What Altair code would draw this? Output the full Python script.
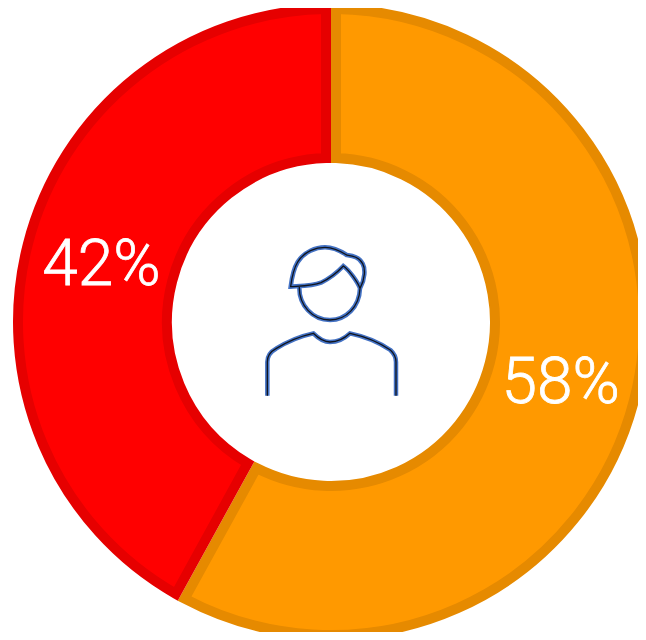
import altair as alt
import pandas as pd

labels = ["58%", "42%"]
values = [58, 42]
fills = ["#FF9900", "#FF0000"]
strokes = ["#E68A00", "#E60000"]

# Person icon outline, as custom symbol paths
HEAD = ("M-121,-106 C-118,-130 -112,-160 -100,-180 C-80,-212 -45,-224 -18,-224 "
        "C10,-224 30,-212 47,-201 C65,-198 85,-195 95,-175 C103,-160 103,-130 87,-101 "
        "C80,-120 55,-155 37,-168 C20,-150 -5,-130 -30,-118 C-55,-108 -90,-108 -121,-106 Z "
        "M-95,-106 C-97,-50 -55,-6 -3,-6 C45,-6 85,-45 87,-101")
BODY = ("M-191,221 L-191,120 C-191,100 -180,88 -165,80 C-130,58 -95,43 -53,34 "
        "C-35,52 -20,60 -3,60 C20,60 40,50 57,34 C100,43 140,58 178,84 "
        "C190,95 195,105 195,120 L195,221")
ICON = HEAD + " " + BODY

df = pd.DataFrame({"label": labels, "value": values, "order": [0, 1]})
cx, cy = 323, 314

base = alt.Chart(df).encode(
    theta=alt.Theta("value:Q", stack=True),
    order=alt.Order("order:Q"),
)

color = alt.Color("label:N", scale=alt.Scale(domain=labels, range=fills), legend=None)
stroke = alt.Stroke("label:N", scale=alt.Scale(domain=labels, range=strokes), legend=None)

arcs = base.mark_arc(
    outerRadius=313, innerRadius=164, padAngle=0.0283,
    strokeWidth=10, strokeJoin="miter",
).encode(color=color, stroke=stroke, x=alt.value(cx), y=alt.value(cy))

texts = base.mark_text(
    radius=237, font="Roboto", fontWeight=300, fontSize=64, color="white",
    stroke="white", strokeWidth=0.8, align="center", baseline="middle", dy=3,
).encode(text="label:N", x=alt.value(cx), y=alt.value(cy))

icon_df = pd.DataFrame({"k": ["icon"]})
icon_blue = alt.Chart(icon_df).mark_point(
    shape=ICON, size=4 / 9, filled=False, stroke="#4472C4", strokeWidth=4.5, opacity=1,
).encode(x=alt.value(cx), y=alt.value(cy))
icon_black = alt.Chart(icon_df).mark_point(
    shape=ICON, size=4 / 9, filled=False, stroke="#10141c", strokeWidth=1.3, opacity=1,
).encode(x=alt.value(cx), y=alt.value(cy))

chart = (arcs + texts + icon_blue + icon_black).properties(
    width=630, height=624, padding=0,
    autosize=alt.AutoSizeParams(type="none"),
).configure_view(stroke=None)

chart.save("out.html", embed_options={"renderer": "svg", "actions": False})
